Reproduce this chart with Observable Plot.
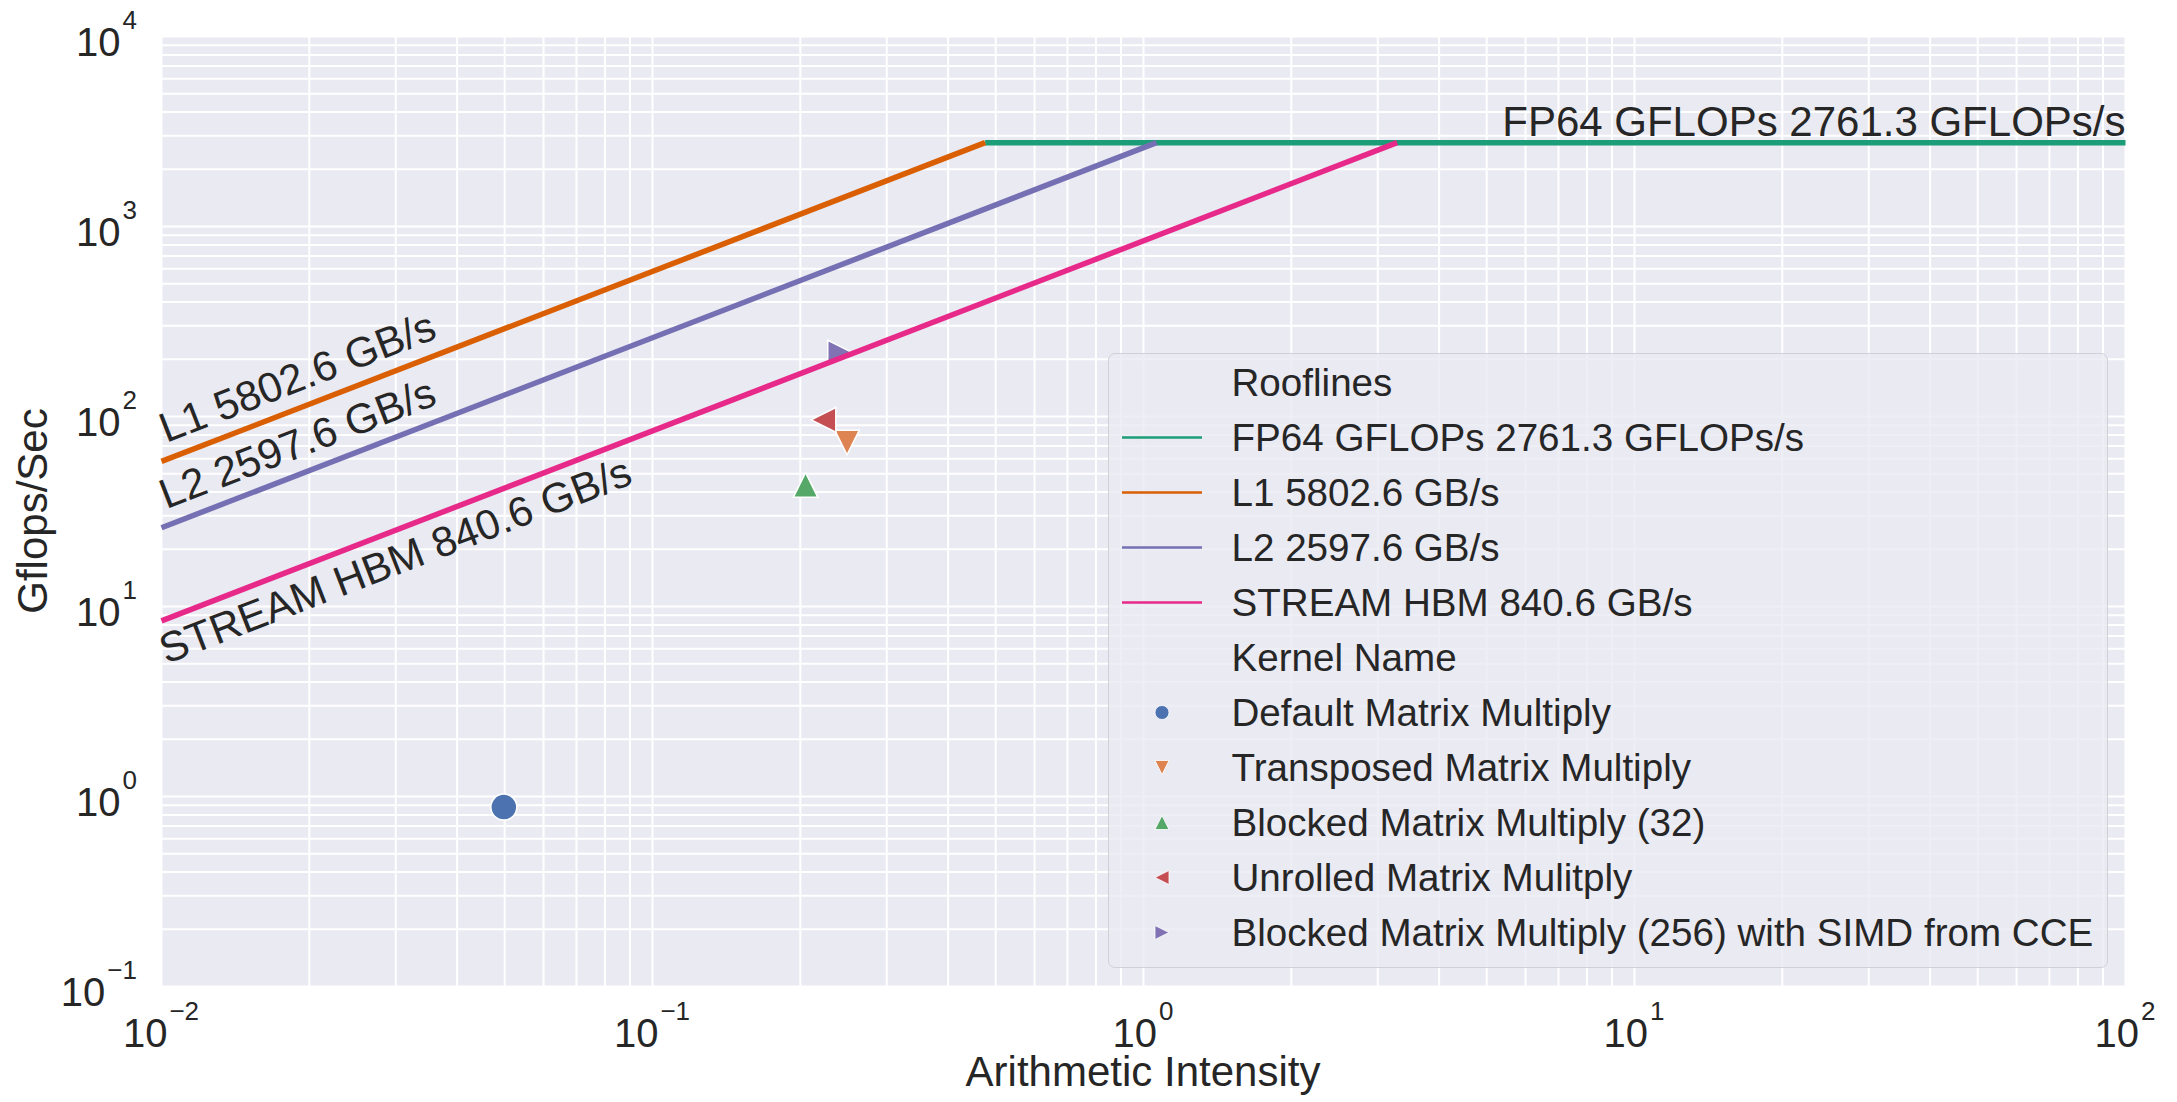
<!DOCTYPE html>
<html>
<head>
<meta charset="utf-8">
<script src="https://cdn.jsdelivr.net/npm/d3@7"></script>
<script src="https://cdn.jsdelivr.net/npm/@observablehq/plot@0.6"></script>
<style>
  html, body { margin: 0; padding: 0; background: #ffffff; overflow: hidden; }
  #wrap { position: relative; width: 2177px; height: 1102px; font-family: "Liberation Sans", Arial, sans-serif; color: #262626; }
  #legend { position: absolute; left: 1108px; top: 353px; width: 1000px; height: 615px; box-sizing: border-box;
            border: 1.5px solid #d0d0d7; border-radius: 7px; background: rgba(234,234,242,0.8); }
  .row { position: absolute; left: 0; height: 55px; width: 100%; display: flex; align-items: center; }
  .row svg { position: absolute; left: 12.5px; top: 0; }
  .row span { position: absolute; left: 122.5px; font-size: 38.6px; line-height: 55px; white-space: nowrap; }
</style>
</head>
<body>
<div id="wrap"></div>
<script>
// ---------------- data ----------------
const rooflineNames = ["FP64 GFLOPs 2761.3 GFLOPs/s", "L1 5802.6 GB/s", "L2 2597.6 GB/s", "STREAM HBM 840.6 GB/s"];
const rooflineColors = ["#1b9e77", "#d95f02", "#7570b3", "#e7298a"];
const peakGflops = 2761.3;                       // GFLOP/s
const memoryNames = ["L1 5802.6 GB/s", "L2 2597.6 GB/s", "STREAM HBM 840.6 GB/s"];
const memoryBandwidths = [5802.6, 2597.6, 840.6]; // GB/s
const aiRange = [0.01, 100];                     // arithmetic intensity axis range
const gflopsRange = [0.1, 10000];

const kernelNames = [
  "Default Matrix Multiply",
  "Transposed Matrix Multiply",
  "Blocked Matrix Multiply (32)",
  "Unrolled Matrix Mulitply",
  "Blocked Matrix Multiply (256) with SIMD from CCE"
];
const kernelAI = [0.0498, 0.249, 0.205, 0.223, 0.241];
const kernelGflops = [0.88, 73, 43.6, 96, 217];
const kernelColors = ["#4c72b0", "#dd8452", "#55a868", "#c44e52", "#8172b3"];
const kernelMarkers = ["circle", "down", "up", "left", "right"];

const xTickExponents = [-2, -1, 0, 1, 2];
const yTickExponents = [-1, 0, 1, 2, 3, 4];
const xLabel = "Arithmetic Intensity";
const yLabel = "Gflops/Sec";
const legendTitles = ["Rooflines", "Kernel Name"];

// ---------------- helpers ----------------
const FONT = '"Liberation Sans", Arial, sans-serif';
const INK = "#262626";
const W = 2177, H = 1102, ML = 161, MR = 52, MT = 36, MB = 116;

function markerSymbol(kind, scale = 1) {
  if (kind === "circle") return d3.symbolCircle;
  return {
    draw(ctx, size) {
      const h = Math.sqrt(size / Math.PI) * scale;
      const p = {
        up: [[0, -h], [h, h], [-h, h]],
        down: [[0, h], [h, -h], [-h, -h]],
        left: [[-h, 0], [h, -h], [h, h]],
        right: [[h, 0], [-h, -h], [-h, h]]
      }[kind];
      ctx.moveTo(p[0][0], p[0][1]);
      ctx.lineTo(p[1][0], p[1][1]);
      ctx.lineTo(p[2][0], p[2][1]);
      ctx.closePath();
    }
  };
}

// roofline segments (two end points each, from the roofline model)
const maxBW = d3.max(memoryBandwidths);
const roofRows = [
  {name: rooflineNames[0], x: peakGflops / maxBW, y: peakGflops},
  {name: rooflineNames[0], x: aiRange[1], y: peakGflops}
];
memoryNames.forEach((n, i) => {
  const bw = memoryBandwidths[i];
  roofRows.push({name: n, x: aiRange[0], y: bw * aiRange[0]});
  roofRows.push({name: n, x: peakGflops / bw, y: peakGflops});
});

// grid (major + minor decades)
const gridFor = (exps) => {
  const out = [];
  exps.forEach((e, i) => {
    out.push(10 ** e);
    if (i < exps.length - 1) for (let k = 2; k <= 9; k++) out.push(k * 10 ** e);
  });
  return out;
};
const xGrid = gridFor(xTickExponents);
const yGrid = gridFor(yTickExponents);

const xPerDecade = (W - ML - MR) / (xTickExponents.length - 1);
const yPerDecade = (H - MT - MB) / (yTickExponents.length - 1);
const slopeAngle = -Math.atan2(yPerDecade, xPerDecade) * 180 / Math.PI;

const kernels = kernelNames.map((name, i) => ({name, ai: kernelAI[i], gf: kernelGflops[i]}));
const bwLabels = memoryNames.map((name, i) => ({name, x: aiRange[0], y: memoryBandwidths[i] * aiRange[0]}));

const plot = Plot.plot({
  width: W, height: H,
  marginLeft: ML, marginRight: MR, marginTop: MT, marginBottom: MB,
  x: {type: "log", domain: aiRange, axis: null},
  y: {type: "log", domain: gflopsRange, axis: null},
  color: {domain: rooflineNames, range: rooflineColors},
  style: {background: "#ffffff", fontFamily: FONT, overflow: "visible"},
  marks: [
    Plot.frame({fill: "#eaeaf2", stroke: null}),
    Plot.ruleX(xGrid, {stroke: "#ffffff", strokeWidth: 2}),
    Plot.ruleY(yGrid, {stroke: "#ffffff", strokeWidth: 2}),
    ...kernels.map((k, i) => Plot.dot([k], {
      x: "ai", y: "gf",
      symbol: markerSymbol(kernelMarkers[i], 1),
      r: kernelMarkers[i] === "circle" ? 13 : 12.3,
      fill: kernelColors[i], stroke: "#ffffff", strokeWidth: 1.5, fillOpacity: 1
    })),
    Plot.line(roofRows, {x: "x", y: "y", z: "name", stroke: "name", strokeWidth: 5.5, strokeLinecap: "butt"}),
    Plot.text([rooflineNames[0]], {
      x: aiRange[1], y: peakGflops, text: d => d, textAnchor: "end", lineAnchor: "middle",
      dy: -20, fontSize: 42, fill: INK, fontFamily: FONT
    }),
    Plot.text(bwLabels.slice(0, 2), {
      x: "x", y: "y", text: "name", rotate: slopeAngle, textAnchor: "start", lineAnchor: "middle",
      dy: -31, fontSize: 42, fill: INK, fontFamily: FONT
    }),
    Plot.text(bwLabels.slice(2), {
      x: "x", y: "y", text: "name", rotate: slopeAngle, textAnchor: "start", lineAnchor: "middle",
      dy: 31, fontSize: 42, fill: INK, fontFamily: FONT
    })
  ]
});

// ---------------- tick labels & axis labels (via the plot's scales) ----------------
const svg = d3.select(plot);
const sx = plot.scale("x"), sy = plot.scale("y");
const fmtExp = (e) => (e < 0 ? "\u2212" + (-e) : String(e));
const axes = svg.append("g").attr("font-family", FONT).attr("fill", INK);

xTickExponents.forEach((e) => {
  const t = axes.append("text")
    .attr("x", sx.apply(10 ** e)).attr("y", H - MB + 61)
    .attr("text-anchor", "middle").attr("font-size", 40);
  t.append("tspan").text("10");
  t.append("tspan").attr("dx", 2).attr("dy", -27).attr("font-size", 26).text(fmtExp(e));
});
yTickExponents.forEach((e) => {
  const t = axes.append("text")
    .attr("x", ML - 24).attr("y", sy.apply(10 ** e) + 20)
    .attr("text-anchor", "end").attr("font-size", 40);
  t.append("tspan").text("10");
  t.append("tspan").attr("dx", 2).attr("dy", -27).attr("font-size", 26).text(fmtExp(e));
});
axes.append("text")
  .attr("x", (ML + W - MR) / 2).attr("y", H - 16)
  .attr("text-anchor", "middle").attr("font-size", 42).text(xLabel);
axes.append("text")
  .attr("transform", `translate(47,${(MT + H - MB) / 2}) rotate(-90)`)
  .attr("text-anchor", "middle").attr("font-size", 42).text(yLabel);

const wrap = document.getElementById("wrap");
wrap.appendChild(plot);

// ---------------- legend (overlay inside the axes) ----------------
const legend = document.createElement("div");
legend.id = "legend";
wrap.appendChild(legend);

const entries = [];
entries.push({title: legendTitles[0]});
rooflineNames.forEach((n, i) => entries.push({label: n, line: rooflineColors[i]}));
entries.push({title: legendTitles[1]});
kernelNames.forEach((n, i) => entries.push({label: n, marker: kernelMarkers[i], color: kernelColors[i]}));

entries.forEach((en, i) => {
  const row = document.createElement("div");
  row.className = "row";
  row.style.top = (28.5 + 55 * i - 27.5) + "px";
  if (en.line || en.marker) {
    const s = d3.create("svg").attr("width", 80).attr("height", 55);
    if (en.line) {
      s.append("line").attr("x1", 0).attr("x2", 80).attr("y1", 27.5).attr("y2", 27.5)
        .attr("stroke", en.line).attr("stroke-width", 2.7);
    } else {
      const p = d3.path();
      markerSymbol(en.marker, 1).draw(p, Math.PI * 7 * 7);
      s.append("path").attr("d", p.toString()).attr("transform", "translate(40,27.5)")
        .attr("fill", en.color).attr("stroke", "#ffffff").attr("stroke-width", 0.8);
    }
    row.appendChild(s.node());
  }
  const sp = document.createElement("span");
  sp.textContent = en.title || en.label;
  row.appendChild(sp);
  legend.appendChild(row);
});
</script>
</body>
</html>
